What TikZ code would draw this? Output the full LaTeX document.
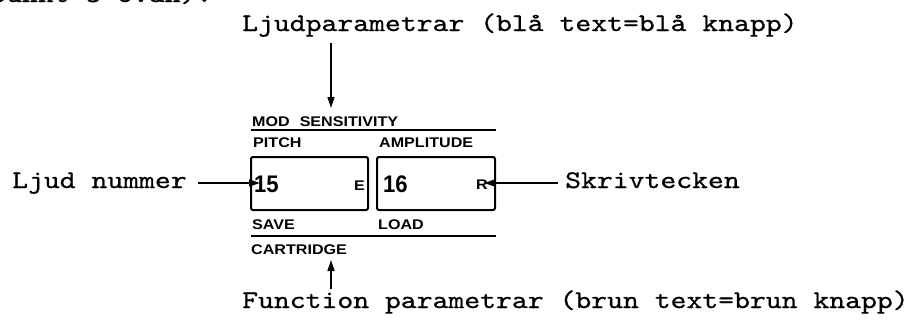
\documentclass[tikz,border=0pt]{standalone}
\usepackage{fontspec}
\usetikzlibrary{arrows.meta}
\newfontfamily\twfont[FakeStretch=1.19,FakeBold=0.7]{lmmono10-regular.otf}
\newfontfamily\panelfont[FakeStretch=1.15]{Liberation Sans Bold}
\newfontfamily\digitfont[FakeStretch=0.92]{Liberation Sans Bold}
\tikzset{
  mono/.style={inner sep=0pt, anchor=base west, font=\twfont\fontsize{25.4}{28}\selectfont},
  plabel/.style={inner sep=0pt, anchor=base west, font=\panelfont\fontsize{14}{15}\selectfont},
  digits/.style={inner sep=0pt, anchor=base west, font=\digitfont\fontsize{24}{26}\selectfont},
  small/.style={inner sep=0pt, anchor=base west, font=\panelfont\fontsize{14}{15}\selectfont},
  keybox/.style={draw, line width=2pt, rounded corners=2pt},
  rule/.style={line width=2pt},
  arr/.style={line width=1.4pt, -{Triangle[length=11pt,width=7pt]}},
}
\begin{document}
\begin{tikzpicture}[x=1pt,y=-1pt]
\useasboundingbox (0,0) rectangle (914,325);
% texts
\node[mono] (prev) at (-10,2) {punkt 3 ovan):};
\node[mono] (ljudp) at (242,31) {Ljudparametrar (blå text=blå knapp)};
\node[mono] (func) at (242,308) {Function parametrar (brun text=brun knapp)};
\node[mono] (ljudn) at (12,188) {Ljud nummer};
\node[mono] (skriv) at (565,188) {Skrivtecken};
% panel labels
\node[plabel] (mod) at (252,126) {MOD\hspace{10pt}SENSITIVITY};
\draw[rule] (251,130) coordinate (r1a) -- (496,130) coordinate (r1b);
\node[plabel] (pitch) at (253,147) {PITCH};
\node[plabel] (ampl) at (379,147) {AMPLITUDE};
\node[plabel] (save) at (252,229) {SAVE};
\node[plabel] (load) at (378,229) {LOAD};
\draw[rule] (251,236) coordinate (r2a) -- (496,236) coordinate (r2b);
\node[plabel] (cart) at (251,254) {CARTRIDGE};
% keys
\draw[keybox] (251,157) rectangle (368,210);
\draw[keybox] (377,157) rectangle (495,210);
\node[digits] (n15) at (254,192) {15};
\node[small] (e) at (354,190) {E};
\node[digits] (n16) at (383,192) {16};
\node[small] (r) at (476,189) {R};
% connectors
\coordinate (t1) at (331,43);
\coordinate (t2) at (331,108);
\draw[arr] (t1) -- (t2);
\coordinate (b1) at (331,289);
\coordinate (b2) at (331,260);
\draw[arr] (b1) -- (b2);
\coordinate (l1) at (198,183);
\coordinate (l2) at (260,183);
\draw[arr] (l1) -- (l2);
\coordinate (s1) at (558,183);
\coordinate (s2) at (484,183);
\draw[arr] (s1) -- (s2);
\end{tikzpicture}
\end{document}
